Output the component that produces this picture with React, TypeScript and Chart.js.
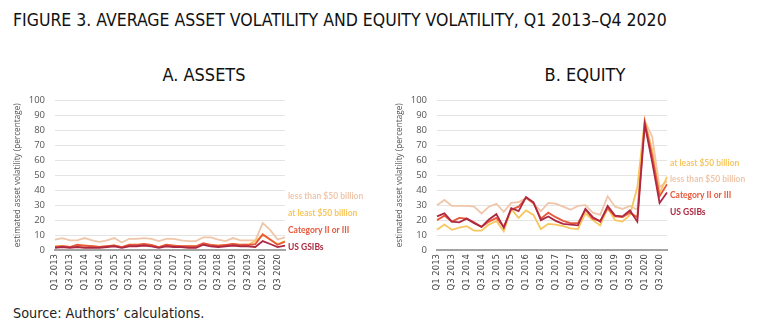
import React, { useEffect, useRef } from "react";
import { Chart, registerables } from "chart.js";

Chart.register(...registerables);

const quarters = [
  "Q1 2013", "Q2 2013", "Q3 2013", "Q4 2013",
  "Q1 2014", "Q2 2014", "Q3 2014", "Q4 2014",
  "Q1 2015", "Q2 2015", "Q3 2015", "Q4 2015",
  "Q1 2016", "Q2 2016", "Q3 2016", "Q4 2016",
  "Q1 2017", "Q2 2017", "Q3 2017", "Q4 2017",
  "Q1 2018", "Q2 2018", "Q3 2018", "Q4 2018",
  "Q1 2019", "Q2 2019", "Q3 2019", "Q4 2019",
  "Q1 2020", "Q2 2020", "Q3 2020", "Q4 2020",
];

const yTicks = [0, 10, 20, 30, 40, 50, 60, 70, 80, 90, 100];

// Panel A: assets
const assetsLessThan50 = [7, 8, 6.5, 6.5, 8, 6.5, 5.5, 6.5, 8, 5, 7.5, 7.5, 8, 7.5, 6, 7.5, 7.5, 6.5, 6, 6, 8.5, 8.5, 7, 6, 8, 6.5, 6.5, 6.5, 18, 13.5, 7, 8.5];
const assetsAtLeast50 = [2.5, 2.5, 2, 2.5, 3, 2.5, 2, 2.5, 3, 2, 3, 3.5, 3.5, 3, 2, 3.5, 3, 2.5, 2.5, 2.5, 4, 3.5, 3, 3, 4, 3.5, 3.5, 6, 10, 7, 4, 6];
const assetsCategory = [2, 2.5, 2, 3.5, 3, 2.5, 2, 2.5, 3, 2, 3.5, 3.5, 4, 3.5, 2, 3.5, 3, 2.5, 2.5, 2.5, 4.5, 3.5, 3, 3.5, 4, 3.5, 3.5, 4, 10.5, 7, 3.5, 5.5];
const assetsGsib = [1.5, 2, 1.5, 2, 1.5, 1.5, 1.5, 2, 2.5, 1.5, 2.5, 2.5, 3, 2.5, 1.5, 2.5, 2, 2, 1.5, 1.5, 3.5, 2.5, 2, 2.5, 3, 2.5, 2.5, 2, 6, 4, 2, 3];

// Panel B: equity
const equityLessThan50 = [30, 33.5, 29.5, 29.5, 29.5, 29, 24.5, 29, 31, 25.5, 31.5, 32, 35, 31, 26, 31.5, 31, 29, 27, 29.5, 30, 25, 23.5, 36, 29, 27.5, 29.5, 27, 86.5, 76, 42, 46];
const equityAtLeast50 = [13.5, 17, 13.5, 15, 16, 13, 13, 17, 19.5, 12.5, 27.5, 21.5, 26.5, 23.5, 14, 17.5, 17, 16, 14.5, 14, 24.5, 20, 16.5, 28, 20, 19, 23.5, 42, 87, 67, 38, 49];
const equityCategory = [20, 23, 19, 21.5, 21, 18.5, 15.5, 19, 21.5, 15.5, 27, 29, 35, 31.5, 21, 25, 22, 19.5, 18, 18, 27, 21, 19.5, 28, 22.5, 22, 25, 22, 86, 63, 36, 44];
const equityGsib = [22.5, 24.5, 19, 18.5, 21, 18, 15.5, 20.5, 24, 15, 28, 26, 35.5, 32, 20, 22.5, 19.5, 17.5, 17, 16.5, 27.5, 22, 19, 29.5, 23, 22.5, 26.5, 19, 84, 59, 31.5, 38.5];

const seriesNames = ["US GSIBs", "Category II or III", "at least $50 billion", "less than $50 billion"];
const seriesColors = ["#ad2840", "#e8583c", "#f7c65e", "#efc6aa"];

// label anchor values (in data units) for the end-of-line labels
const assetsLabelValues = [2, 13, 24.5, 36];
const equityLabelValues = [25, 36.5, 58, 47.5];

const endLabelsPlugin = {
  id: "endLabels",
  afterDraw(chart: any, _args: any, opts: any) {
    const { ctx, chartArea, scales } = chart;
    if (!opts || !opts.items) return;
    ctx.save();
    ctx.font = "bold 8.5px Lato, 'Open Sans', sans-serif";
    ctx.textBaseline = "middle";
    ctx.textAlign = "left";
    for (const it of opts.items) {
      ctx.fillStyle = it.color;
      ctx.fillText(it.text, chartArea.right + (opts.gap || 3), scales.y.getPixelForValue(it.value));
    }
    ctx.restore();
  },
};

function makeConfig(series: number[][], labelValues: number[], yWidth: number, titlePad: number, padRight: number) {
  return {
    type: "line",
    data: {
      labels: quarters,
      datasets: series.map((d, i) => ({
        label: seriesNames[i],
        data: d,
        borderColor: seriesColors[i],
        backgroundColor: seriesColors[i],
        borderWidth: 1.8,
        pointRadius: 0,
        tension: 0,
        fill: false,
      })),
    },
    options: {
      animation: false,
      responsive: false,
      maintainAspectRatio: false,
      layout: { padding: { top: 14, right: padRight, left: 0, bottom: 0 } },
      plugins: {
        legend: { display: false },
        tooltip: { enabled: false },
        endLabels: {
          gap: 3,
          items: seriesNames.map((t, i) => ({ text: t, color: seriesColors[i], value: labelValues[i] })),
        },
      },
      scales: {
        x: {
          offset: false,
          grid: { display: false, drawTicks: false },
          border: { display: true, color: "#a3a3a3", width: 2 },
          afterFit: (s: any) => { s.height = 50; },
          ticks: {
            autoSkip: false,
            maxRotation: 90,
            minRotation: 90,
            padding: 4,
            color: "#444",
            font: { family: "'DejaVu Sans', sans-serif", size: 8.5 },
            callback: (_v: any, idx: number) => (idx % 2 === 0 ? quarters[idx] : ""),
          },
        },
        y: {
          min: 0,
          max: 100,
          afterFit: (s: any) => { s.width = yWidth; },
          afterBuildTicks: (s: any) => { s.ticks = yTicks.map((v) => ({ value: v })); },
          grid: { color: "#e4e4e4", lineWidth: 1, drawTicks: false },
          border: { display: false },
          ticks: {
            padding: 10,
            color: "#555",
            font: { family: "'Open Sans', sans-serif", size: 9.5 },
          },
          title: {
            display: true,
            text: "estimated asset volatility (percentage)",
            color: "#555",
            padding: { top: titlePad, bottom: 0 },
            font: { family: "'Open Sans', sans-serif", size: 8.2 },
          },
        },
      },
    },
    plugins: [endLabelsPlugin],
  };
}

function Panel(props: { left: number; width: number; cfg: any }) {
  const ref = useRef<HTMLCanvasElement>(null);
  useEffect(() => {
    const chart = new Chart(ref.current as HTMLCanvasElement, props.cfg);
    return () => chart.destroy();
  }, []);
  return (
    <canvas
      ref={ref}
      width={props.width}
      height={215}
      style={{ position: "absolute", left: props.left, top: 85, width: props.width, height: 215 }}
    />
  );
}

export default function App() {
  const textFont = "'Liberation Sans Narrow', 'DejaVu Sans Condensed', sans-serif";
  return (
    <div style={{ position: "absolute", left: 0, top: 0, width: 768, height: 329, background: "#fff", overflow: "hidden" }}>
      <div style={{ position: "absolute", left: 13, top: 9, fontFamily: textFont, fontSize: 17.5, lineHeight: "22px", color: "#111", whiteSpace: "nowrap" }}>
        FIGURE 3. AVERAGE ASSET VOLATILITY AND EQUITY VOLATILITY, Q1 2013–Q4 2020
      </div>
      <div style={{ position: "absolute", left: 104, width: 200, top: 64, textAlign: "center", fontFamily: textFont, fontSize: 18, lineHeight: "22px", color: "#111" }}>
        A. ASSETS
      </div>
      <div style={{ position: "absolute", left: 485, width: 200, top: 64, textAlign: "center", fontFamily: textFont, fontSize: 18, lineHeight: "22px", color: "#111" }}>
        B. EQUITY
      </div>
      <Panel left={0} width={390} cfg={makeConfig([assetsGsib, assetsCategory, assetsAtLeast50, assetsLessThan50], assetsLabelValues, 55, 13, 105)} />
      <Panel left={380} width={388} cfg={makeConfig([equityGsib, equityCategory, equityAtLeast50, equityLessThan50], equityLabelValues, 57, 15, 101)} />
      <div style={{ position: "absolute", left: 13, top: 303, fontFamily: "'DejaVu Sans Condensed', 'DejaVu Sans', sans-serif", fontSize: 14.3, lineHeight: "20px", color: "#222", whiteSpace: "nowrap" }}>
        Source: Authors’ calculations.
      </div>
    </div>
  );
}
